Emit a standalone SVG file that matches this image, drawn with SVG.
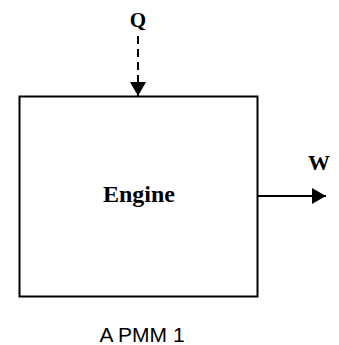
<svg xmlns="http://www.w3.org/2000/svg" width="339" height="345" viewBox="0 0 339 345">
<style>
.ln{stroke:#000;stroke-width:2;fill:none}
.bt{font-family:"Liberation Serif",serif;font-weight:bold;fill:#000;text-anchor:middle}
.cap{font-family:"Liberation Sans",sans-serif;fill:#000;text-anchor:middle}
</style>
<defs>
<marker id="ah" markerWidth="14" markerHeight="16" refX="14" refY="8" orient="auto" markerUnits="userSpaceOnUse">
<path d="M0,0 L14,8 L0,16 Z" fill="#000"/>
</marker>
</defs>
<rect width="339" height="345" fill="#fff"/>
<g id="engine">
<rect class="ln" x="19.5" y="96.5" width="238" height="200"/>
<text class="bt" x="139" y="202" font-size="24">Engine</text>
</g>
<g id="q-label"><text class="bt" x="138" y="27" font-size="21">Q</text></g>
<g id="w-label"><text class="bt" x="319" y="170" font-size="22">W</text></g>
<g id="caption"><text class="cap" x="142" y="342" font-size="21">A PMM 1</text></g>
<g id="connectors">
<line class="ln" x1="138" y1="36" x2="138" y2="96" stroke-dasharray="8,5" marker-end="url(#ah)"/>
<line class="ln" x1="258" y1="196" x2="326" y2="196" marker-end="url(#ah)"/>
</g>
</svg>
